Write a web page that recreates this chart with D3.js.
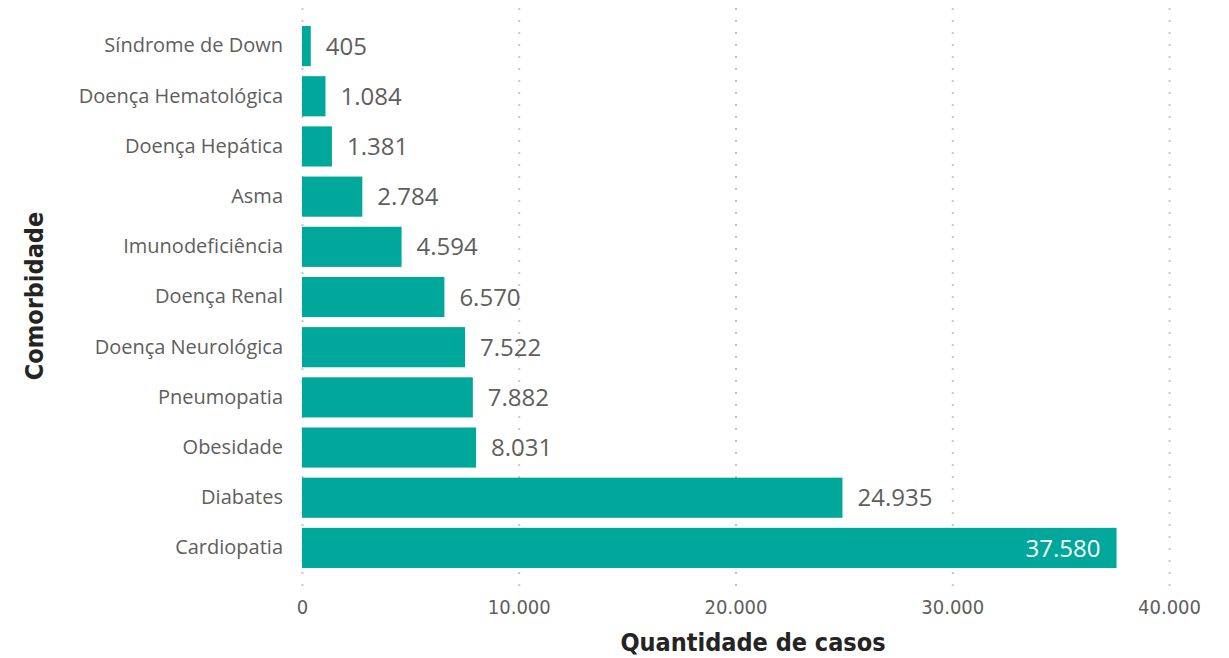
<!DOCTYPE html>
<html>
<head>
<meta charset="utf-8">
<script src="https://cdn.jsdelivr.net/npm/d3@7"></script>
<style>
  body { margin: 0; background: #fff; }
  svg { display: block; }
</style>
</head>
<body>
<div id="chart"></div>
<script>
/* Comorbidades - barras horizontais */

const categories = ["Síndrome de Down", "Doença Hematológica", "Doença Hepática", "Asma",
  "Imunodeficiência", "Doença Renal", "Doença Neurológica", "Pneumopatia",
  "Obesidade", "Diabates", "Cardiopatia"];
const values = [405, 1084, 1381, 2784, 4594, 6570, 7522, 7882, 8031, 24935, 37580];
const xTicks = [0, 10000, 20000, 30000, 40000];

const width = 1229,
  height = 658,
  barColor = "#00A89B",
  textColor = "#605E5C",
  titleColor = "#252423",
  condensed = "'DejaVu Sans Condensed', 'Liberation Sans Narrow', sans-serif",
  labelFont = "'Open Sans', 'Noto Sans', sans-serif";

const data = categories.map((c, i) => ({ cat: c, value: values[i] }));

const fmt = d3.formatLocale({ decimal: ",", thousands: ".", grouping: [3], currency: ["R$", ""] }).format(",d");

const svg = d3.select("#chart")
  .append("svg")
  .attr("width", width)
  .attr("height", height);

const x = d3.scaleLinear()
  .domain([0, 40000])
  .range([302, 1169]);

const y = d3.scaleBand()
  .domain(categories)
  .range([21, 573])
  .paddingInner(0.2)
  .paddingOuter(0.1);

// gridlines pontilhadas
svg.append("g")
  .selectAll("line")
  .data(xTicks)
  .join("line")
  .attr("x1", d => x(d) + 0.5)
  .attr("x2", d => x(d) + 0.5)
  .attr("y1", 8)
  .attr("y2", 590)
  .attr("stroke", "#C8C6C4")
  .attr("stroke-width", 2)
  .attr("stroke-dasharray", "2,10");

// eixo x
const xAxis = svg.append("g")
  .attr("transform", "translate(0,590)")
  .call(d3.axisBottom(x).tickValues(xTicks).tickFormat(fmt).tickSize(0).tickPadding(10));
xAxis.select(".domain").remove();
xAxis.selectAll("text")
  .attr("fill", textColor)
  .style("font-family", condensed)
  .style("font-size", "20px");

// eixo y
const yAxis = svg.append("g")
  .attr("transform", "translate(302,0)")
  .call(d3.axisLeft(y).tickSize(0).tickPadding(19));
yAxis.select(".domain").remove();
yAxis.selectAll("text")
  .attr("fill", textColor)
  .style("font-family", labelFont)
  .style("font-size", "20px");

// barras
svg.append("g")
  .selectAll("rect")
  .data(data)
  .join("rect")
  .attr("x", x(0))
  .attr("y", d => y(d.cat))
  .attr("width", d => x(d.value) - x(0))
  .attr("height", y.bandwidth())
  .attr("fill", barColor);

// rótulos de valor
svg.append("g")
  .selectAll("text")
  .data(data)
  .join("text")
  .text(d => fmt(d.value))
  .attr("x", d => d.value > 30000 ? x(d.value) - 16 : x(d.value) + 15)
  .attr("y", d => y(d.cat) + y.bandwidth() / 2)
  .attr("dy", "0.36em")
  .attr("text-anchor", d => d.value > 30000 ? "end" : "start")
  .attr("fill", d => d.value > 30000 ? "#fff" : textColor)
  .style("font-family", labelFont)
  .style("font-size", "24px");

// títulos dos eixos
svg.append("text")
  .text("Quantidade de casos")
  .attr("x", 753)
  .attr("y", 651)
  .attr("text-anchor", "middle")
  .attr("fill", titleColor)
  .style("font-family", condensed)
  .style("font-weight", "bold")
  .style("font-size", "25px");

svg.append("text")
  .text("Comorbidade")
  .attr("transform", "translate(43,296) rotate(-90)")
  .attr("text-anchor", "middle")
  .attr("fill", titleColor)
  .style("font-family", condensed)
  .style("font-weight", "bold")
  .style("font-size", "25px");
</script>
</body>
</html>
